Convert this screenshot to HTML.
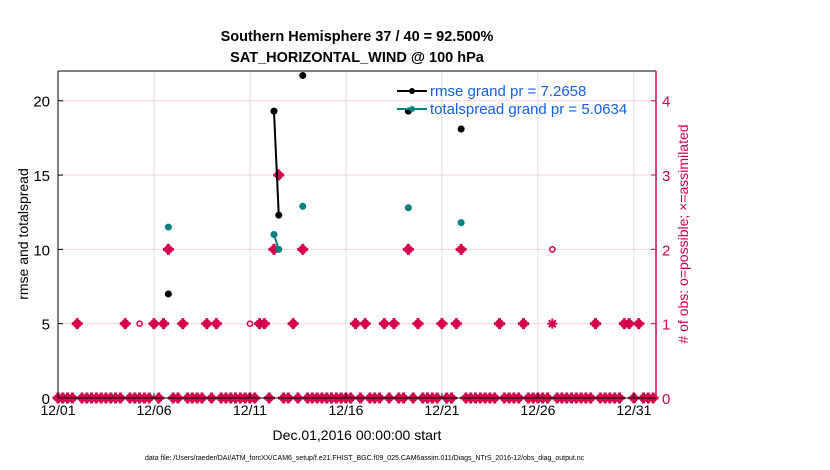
<!DOCTYPE html>
<html><head><meta charset="utf-8"><style>
body{margin:0;background:#fff;font-family:"Liberation Sans",sans-serif}
svg{display:block}
</style></head><body>
<svg id="chart" width="830" height="470" xmlns="http://www.w3.org/2000/svg" font-family="Liberation Sans, sans-serif">
<text x="357" y="41" font-size="14.5" font-weight="bold" text-anchor="middle">Southern Hemisphere 37 / 40 = 92.500%</text>
<text x="357" y="62" font-size="14.5" font-weight="bold" text-anchor="middle">SAT_HORIZONTAL_WIND @ 100 hPa</text>
<g id="grid"></g>
<g id="marks"></g>
<g id="axes"></g>
<text x="357" y="440" font-size="14" text-anchor="middle">Dec.01,2016 00:00:00 start</text>
<text transform="translate(28,234) rotate(-90)" font-size="14" text-anchor="middle">rmse and totalspread</text>
<text transform="translate(688,234) rotate(-90)" font-size="14" fill="#d1004f" text-anchor="middle"># of obs: o=possible; ×=assimilated</text>
<text x="145" y="460" font-size="7">data file: /Users/raeder/DAI/ATM_forcXX/CAM6_setup/f.e21.FHIST_BGC.f09_025.CAM6assim.011/Diags_NTrS_2016-12/obs_diag_output.nc</text>
<g>
<line x1="397" y1="91" x2="427" y2="91" stroke="#000" stroke-width="2"/><circle cx="412" cy="91" r="3" fill="#000"/>
<text x="430" y="96" font-size="15" fill="#1560e8">rmse grand pr = 7.2658</text>
<line x1="397" y1="109" x2="427" y2="109" stroke="#00807f" stroke-width="2"/><circle cx="412" cy="109" r="3" fill="#00807f"/>
<text x="430" y="114" font-size="15" fill="#1560e8">totalspread grand pr = 5.0634</text>
</g>
</svg>
<script>
const NS="http://www.w3.org/2000/svg";
// slot = 6-hour index from 12/01 00:00
const xTickLabels=["12/01","12/06","12/11","12/16","12/21","12/26","12/31"];
const xTickDays=[0,5,10,15,20,25,30];
const leftTicks=[0,5,10,15,20];
const rightTicks=[0,1,2,3,4];
const zeroSlots=[0,1,2,3,5,6,7,8,9,10,11,12,13,15,16,17,18,19,21,24,25,27,28,29,30,32,34,35,36,37,38,39,40,41,44,47,48,50,52,53,54,55,56,57,58,59,60,61,63,65,66,67,69,71,72,74,76,77,78,79,81,82,85,86,87,88,89,90,91,93,94,95,96,98,99,100,101,102,104,105,106,107,108,109,110,111,113,114,115,116,117,120,122,123,124];
const oneSlots=[4,14,20,22,26,31,33,42,43,49,62,64,68,70,75,80,83,92,97,112,118,119,121];
const oneOpenSlots=[17,40];
const oneStarSlots=[103];
const twoSlots=[23,45,51,73,84];
const twoOpenSlots=[103];
const threeSlots=[46];
const rmseSlots=[23,45,46,51,73,84];
const rmseVals=[7.0,19.3,12.3,21.7,19.3,18.1];
const spreadSlots=[23,45,46,51,73,84];
const spreadVals=[11.5,11.0,10.0,12.9,12.8,11.8];

const X0=58,X1=656,Y0=398,Y1=71,XMAX=31.15,LMAX=22,RMAX=4.4;
const xs=d=>X0+d/XMAX*(X1-X0);
const xSlot=s=>xs(s/4);
const yl=v=>Y0-v/LMAX*(Y0-Y1);
const yr=v=>Y0-v/RMAX*(Y0-Y1);
const RED="#d6004f",TEAL="#00807f";
function mk(tag,attrs,parent){const e=document.createElementNS(NS,tag);for(const k in attrs)e.setAttribute(k,attrs[k]);parent.appendChild(e);return e;}
const grid=document.getElementById('grid'),marks=document.getElementById('marks'),axes=document.getElementById('axes');
xTickDays.forEach((d,i)=>{
  if(i>0){const g=mk('line',{x1:xs(d),x2:xs(d),y1:Y1,y2:Y0,stroke:"#dcdcdc","stroke-width":1},grid);
  
  }
  const t=mk('line',{x1:xs(d),x2:xs(d),y1:Y0,y2:Y0-5,stroke:"#000"},axes);
  
  
  const l=mk('text',{x:xs(d),y:Y0+17,"font-size":14,"text-anchor":"middle"},axes);l.textContent=xTickLabels[i];
  
  
});
rightTicks.forEach(v=>{
  if(v>0){const g=mk('line',{x1:X0,x2:X1,y1:yr(v),y2:yr(v),stroke:"#f6d3df","stroke-width":1},grid);
  
  }
  const t=mk('line',{x1:X1,x2:X1-5,y1:yr(v),y2:yr(v),stroke:RED},axes);
  
  
  const l=mk('text',{x:X1+6,y:yr(v)+6,"font-size":15,fill:RED},axes);l.textContent=v;
  
  
});
leftTicks.forEach(v=>{
  const t=mk('line',{x1:X0,x2:X0+5,y1:yl(v),y2:yl(v),stroke:"#000"},axes);
  
  
  const l=mk('text',{x:X0-8,y:yl(v)+6,"font-size":15,"text-anchor":"end"},axes);l.textContent=v;
  
  
});
let a=mk('line',{x1:X0,x2:X0,y1:Y1,y2:Y0,stroke:"#000"},axes);


a=mk('line',{x1:X0,x2:X1,y1:Y0,y2:Y0,stroke:"#000"},axes);


a=mk('line',{x1:X0,x2:X1,y1:Y1,y2:Y1,stroke:"#000"},axes);


a=mk('line',{x1:X1,x2:X1,y1:Y1,y2:Y0,stroke:RED,"stroke-width":1.5},axes);



function filled(s,v){const g=mk('g',{},marks);
  
  
  const x=xSlot(s),y=yr(v);
  mk('circle',{cx:x,cy:y,r:4.3,fill:RED},g);
  mk('path',{d:`M${x-5.5} ${y}H${x+5.5}M${x} ${y-5.5}V${y+5.5}`,stroke:RED,"stroke-width":3},g);}
function openC(s,v){const c=mk('circle',{cx:xSlot(s),cy:yr(v),r:2.6,fill:"none",stroke:RED,"stroke-width":1.5},marks);
  
  }
function star(s,v){const x=xSlot(s),y=yr(v);const p=mk('path',{d:`M${x-5} ${y}H${x+5}M${x} ${y-5}V${y+5}M${x-3.5} ${y-3.5}L${x+3.5} ${y+3.5}M${x-3.5} ${y+3.5}L${x+3.5} ${y-3.5}`,stroke:RED,"stroke-width":2},marks);
  
  }
zeroSlots.forEach(s=>filled(s,0));
oneSlots.forEach(s=>filled(s,1));
oneOpenSlots.forEach(s=>openC(s,1));
oneStarSlots.forEach(s=>star(s,1));
twoSlots.forEach(s=>filled(s,2));
twoOpenSlots.forEach(s=>openC(s,2));
threeSlots.forEach(s=>filled(s,3));

function series(slots,vals,color,name){
  for(let i=1;i<slots.length;i++){if(slots[i]-slots[i-1]===1){
    const l=mk('line',{x1:xSlot(slots[i-1]),y1:yl(vals[i-1]),x2:xSlot(slots[i]),y2:yl(vals[i]),stroke:color,"stroke-width":2},marks);
    
    }}
  slots.forEach((s,i)=>{const c=mk('circle',{cx:xSlot(s),cy:yl(vals[i]),r:3.5,fill:color},marks);
    
    });
}
series(spreadSlots,spreadVals,TEAL,'totalspread');
series(rmseSlots,rmseVals,"#000",'rmse');
</script>
</body></html>
